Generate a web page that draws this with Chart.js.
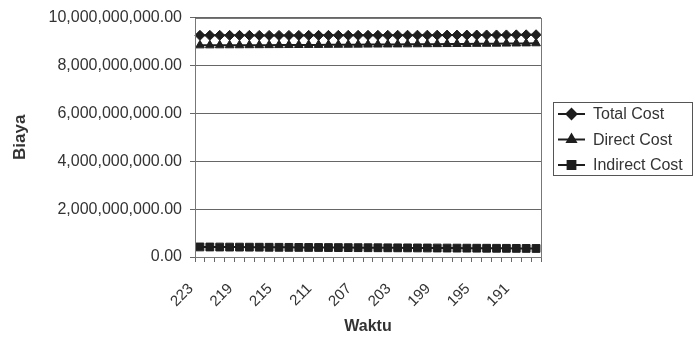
<!DOCTYPE html>
<html>
<head>
<meta charset="utf-8">
<script src="https://cdn.jsdelivr.net/npm/chart.js@4/dist/chart.umd.min.js"></script>
<style>
  html, body { margin: 0; padding: 0; background: #ffffff; }
  #wrap { width: 700px; height: 340px; }
</style>
</head>
<body>
<div id="wrap"><canvas id="c" width="700" height="340"></canvas></div>
<script>
// Project duration (days), from normal duration down to the crashed one
const waktu = ['223','222','221','220','219','218','217','216','215','214','213','212',
  '211','210','209','208','207','206','205','204','203','202','201','200',
  '199','198','197','196','195','194','193','192','191','190','189'];

// Costs in billions of rupiah
const totalCost = [9.260,9.259,9.259,9.258,9.258,9.258,9.257,9.257,9.257,9.257,9.257,9.258,
  9.258,9.258,9.259,9.259,9.260,9.261,9.261,9.262,9.263,9.264,9.265,9.266,
  9.267,9.268,9.269,9.271,9.272,9.274,9.275,9.277,9.279,9.281,9.283];
const directCost = [8.840,8.841,8.843,8.844,8.845,8.847,8.848,8.850,8.852,8.854,8.856,8.859,
  8.860,8.862,8.865,8.867,8.870,8.873,8.875,8.878,8.880,8.883,8.886,8.889,
  8.892,8.895,8.898,8.902,8.905,8.908,8.911,8.915,8.919,8.923,8.927];
const indirectCost = [0.420,0.418,0.416,0.414,0.413,0.411,0.409,0.407,0.405,0.403,0.401,0.399,
  0.398,0.396,0.394,0.392,0.390,0.388,0.386,0.384,0.383,0.381,0.379,0.377,
  0.375,0.373,0.371,0.369,0.367,0.366,0.364,0.362,0.360,0.358,0.356];

const seriesNames = ['Total Cost', 'Direct Cost', 'Indirect Cost'];
const BILLION = 1e9;
const toRp = arr => arr.map(v => v * BILLION);

const FONT = '"Liberation Sans", Arial, sans-serif';
const INK = '#1e1e1e';
const TEXT = '#333333';

function fmt(v) {
  return v.toLocaleString('en-US', { minimumFractionDigits: 2, maximumFractionDigits: 2 });
}

// Grey frame around the plotting area
const frame = {
  id: 'frame',
  afterDraw(chart) {
    const { ctx, chartArea: a } = chart;
    ctx.save();
    ctx.strokeStyle = '#777777';
    ctx.lineWidth = 1;
    ctx.strokeRect(Math.round(a.left) + 0.5, Math.round(a.top) + 0.5,
      Math.round(a.right - a.left), Math.round(a.bottom - a.top));
    ctx.restore();
  }
};

// Boxed legend on the right, line sample with marker for each series
const boxLegend = {
  id: 'boxLegend',
  afterDraw(chart) {
    const ctx = chart.ctx;
    const x0 = 553.5, y0 = 102.5, w = 139, h = 73;
    ctx.save();
    ctx.strokeStyle = '#555555';
    ctx.lineWidth = 1;
    ctx.strokeRect(x0, y0, w, h);
    chart.data.datasets.forEach((ds, i) => {
      const y = 114 + i * 25.5;
      ctx.strokeStyle = INK;
      ctx.lineWidth = 2;
      ctx.beginPath();
      ctx.moveTo(558, y);
      ctx.lineTo(585, y);
      ctx.stroke();
      ctx.fillStyle = INK;
      Chart.helpers.drawPoint(ctx, {
        pointStyle: ds.pointStyle, radius: ds.pointRadius, borderWidth: 1, rotation: 0
      }, 571.5, y);
      ctx.fillStyle = TEXT;
      ctx.font = '16px ' + FONT;
      ctx.textBaseline = 'middle';
      ctx.textAlign = 'left';
      ctx.fillText(ds.label, 593, y + 1);
    });
    ctx.restore();
  }
};

const common = {
  borderColor: INK,
  backgroundColor: INK,
  pointBorderColor: INK,
  pointBackgroundColor: INK,
  borderWidth: 2,
  pointBorderWidth: 1,
  tension: 0
};

new Chart(document.getElementById('c'), {
  type: 'line',
  data: {
    labels: waktu,
    datasets: [
      { ...common, label: seriesNames[0], data: toRp(totalCost), pointStyle: 'rectRot', pointRadius: 5 },
      { ...common, label: seriesNames[1], data: toRp(directCost), pointStyle: 'triangle', pointRadius: 5 },
      { ...common, label: seriesNames[2], data: toRp(indirectCost), pointStyle: 'rect', pointRadius: 5.5 }
    ]
  },
  options: {
    responsive: false,
    animation: false,
    devicePixelRatio: 1,
    layout: { padding: { top: 17, right: 159, left: 0, bottom: 0 } },
    plugins: {
      legend: { display: false },
      tooltip: { enabled: false }
    },
    scales: {
      x: {
        offset: true,
        grid: { offset: true, drawOnChartArea: false, drawTicks: true, tickLength: 5, color: '#666666' },
        border: { display: true, color: '#555555' },
        ticks: {
          autoSkip: false,
          minRotation: 45,
          maxRotation: 45,
          padding: 18,
          labelOffset: -9,
          color: TEXT,
          font: { family: FONT, size: 15 },
          callback: (v, i) => (i % 4 === 0 ? waktu[i] : '')
        },
        title: {
          display: true,
          text: 'Waktu',
          color: TEXT,
          font: { family: FONT, size: 16, weight: 'bold' },
          padding: { top: 4, bottom: 4 }
        },
        afterFit: s => { s.height = 83; }
      },
      y: {
        min: 0,
        max: 10 * BILLION,
        grid: { color: '#666666', tickLength: 5, drawTicks: true },
        border: { display: true, color: '#555555' },
        ticks: {
          stepSize: 2 * BILLION,
          padding: 8,
          color: TEXT,
          font: { family: FONT, size: 16 },
          callback: v => fmt(v)
        },
        title: {
          display: true,
          text: 'Biaya',
          color: TEXT,
          font: { family: FONT, size: 17, weight: 'bold' },
          padding: { top: 10, bottom: 0 }
        },
        afterFit: s => { s.width = 195; }
      }
    }
  },
  plugins: [frame, boxLegend]
});
</script>
</body>
</html>
